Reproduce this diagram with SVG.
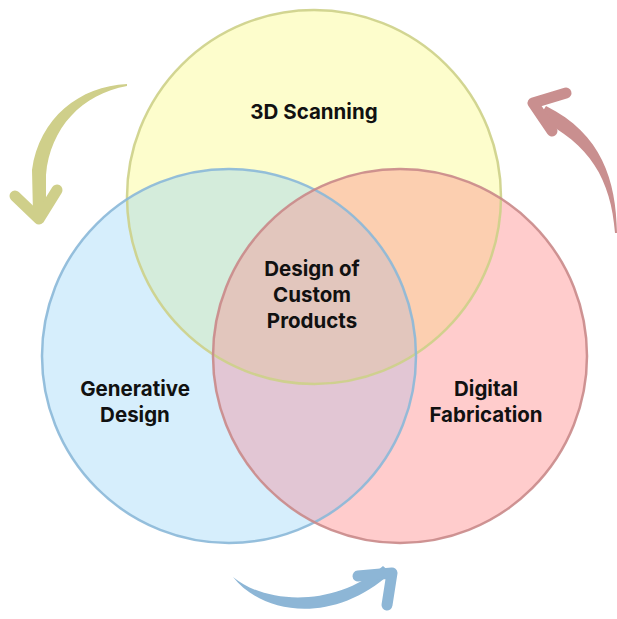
<svg xmlns="http://www.w3.org/2000/svg" width="617" height="619" viewBox="0 0 617 619">
<style>
.lbl{font-family:Inter,"Liberation Sans",sans-serif;font-weight:700;font-size:20.5px;fill:#111;text-anchor:middle}
.ring{fill:none;stroke-width:2.5}
</style>
<defs>
<clipPath id="cY"><circle cx="314" cy="197" r="187"/></clipPath>
<clipPath id="cB"><circle cx="229" cy="356" r="187"/></clipPath>
<clipPath id="cR"><circle cx="400" cy="356" r="187"/></clipPath>
</defs>
<rect width="617" height="619" fill="#fff"/>
<g id="fills">
<circle cx="314" cy="197" r="187" fill="#fdfdcc"/>
<circle cx="229" cy="356" r="187" fill="#d6eefc"/>
<circle cx="400" cy="356" r="187" fill="#ffcccc"/>
<g clip-path="url(#cY)"><circle cx="229" cy="356" r="187" fill="#d4ecdb"/><circle cx="400" cy="356" r="187" fill="#fccfb0"/></g>
<g clip-path="url(#cB)"><circle cx="400" cy="356" r="187" fill="#e2c6d4"/></g>
<g clip-path="url(#cB)"><g clip-path="url(#cY)"><circle cx="400" cy="356" r="187" fill="#e2c6bd"/></g></g>
</g>
<g id="scanning">
<circle class="ring" cx="314" cy="197" r="187" stroke="#cdd088" stroke-opacity="0.9"/>
<text class="lbl" x="314" y="119">3D Scanning</text>
</g>
<g id="generative">
<circle class="ring" cx="229" cy="356" r="187" stroke="#8bb8d8" stroke-opacity="0.9"/>
<text class="lbl" x="135" y="396">Generative</text>
<text class="lbl" x="135" y="422">Design</text>
</g>
<g id="fabrication">
<circle class="ring" cx="400" cy="356" r="187" stroke="#c98a8a" stroke-opacity="0.9"/>
<text class="lbl" x="486" y="396">Digital</text>
<text class="lbl" x="486" y="422">Fabrication</text>
</g>
<g id="center">
<text class="lbl" x="312" y="276">Design of</text>
<text class="lbl" x="312" y="302">Custom</text>
<text class="lbl" x="312" y="328">Products</text>
</g>
<g id="connectors" stroke-linecap="round" stroke-linejoin="round">
<path d="M127,84 C80,86 39,118 32,170 L33,214 L46,214 L46,175 C50,128 82,94 127,86 Z" fill="#cfcf8a"/>
<polyline points="15,196 39,219 57,190" fill="none" stroke="#cfcf8a" stroke-width="11"/>
<path d="M617,233 C616,180 602,134 546,106 L538,119 C590,143 611,180 615,233 Z" fill="#c98f8f"/>
<polyline points="566,93 533,103 552,131" fill="none" stroke="#c98f8f" stroke-width="11"/>
<path d="M233,577 C262,614 332,626 391,573 L383,566 C335,608 265,604 233,577 Z" fill="#8db6d6"/>
<polyline points="358,576 392,573 387,605" fill="none" stroke="#8db6d6" stroke-width="11"/>
</g>
</svg>
